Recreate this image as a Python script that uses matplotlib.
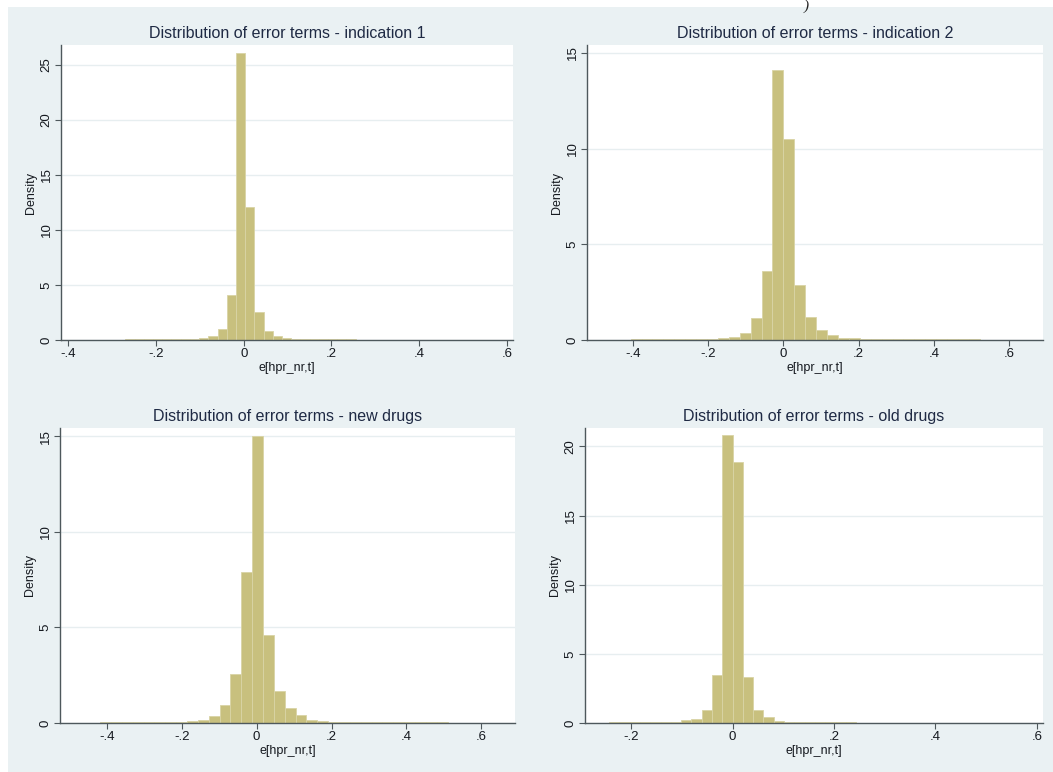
import matplotlib
matplotlib.use("Agg")
import matplotlib.pyplot as plt
from matplotlib.patches import Rectangle

plt.rcParams["font.family"] = ["Liberation Sans", "DejaVu Sans"]

# ---- data: density histograms of the residuals e[hpr_nr,t] ----
titles = [
    "Distribution of error terms - indication 1",
    "Distribution of error terms - indication 2",
    "Distribution of error terms - new drugs",
    "Distribution of error terms - old drugs",
]
x_label = "e[hpr_nr,t]"
y_label = "Density"

# indication 1
ind1_start = -0.417
ind1_width = 0.021
ind1_density = [0.03, 0.03, 0.03, 0.03, 0.03, 0.04, 0.04, 0.05, 0.05, 0.06,
                0.06, 0.07, 0.08, 0.10, 0.12, 0.16, 0.38, 1.00, 4.10, 26.1,
                12.1, 2.50, 0.82, 0.38, 0.16, 0.10, 0.08, 0.07, 0.06, 0.05,
                0.05, 0.05, 0.04, 0.04, 0.04, 0.04, 0.03, 0.03, 0.03, 0.03,
                0.03, 0.03, 0.03, 0.02, 0.02, 0.02, 0.02, 0.02, 0.02]
ind1_xticks = [-0.4, -0.2, 0.0, 0.2, 0.4, 0.6]
ind1_xticklabels = ["-.4", "-.2", "0", ".2", ".4", ".6"]
ind1_yticks = [0, 5, 10, 15, 20, 25]

# indication 2
ind2_start = -0.522
ind2_width = 0.029
ind2_density = [0.02, 0.02, 0.02, 0.02, 0.03, 0.03, 0.03, 0.04, 0.04, 0.05,
                0.05, 0.06, 0.08, 0.15, 0.36, 1.15, 3.60, 14.1, 10.5, 2.90,
                1.22, 0.52, 0.26, 0.12, 0.08, 0.06, 0.05, 0.05, 0.04, 0.04,
                0.04, 0.03, 0.03, 0.03, 0.03, 0.03, 0.02, 0.02, 0.02, 0.02,
                0.02, 0.02]
ind2_xticks = [-0.4, -0.2, 0.0, 0.2, 0.4, 0.6]
ind2_xticklabels = ["-.4", "-.2", "0", ".2", ".4", ".6"]
ind2_yticks = [0, 5, 10, 15]

# new drugs
new_start = -0.534
new_width = 0.029
new_density = [0.02, 0.02, 0.02, 0.02, 0.03, 0.03, 0.03, 0.04, 0.04, 0.05,
               0.05, 0.06, 0.08, 0.17, 0.35, 0.95, 2.55, 7.90, 15.0, 4.60,
               1.70, 0.78, 0.40, 0.17, 0.09, 0.07, 0.06, 0.05, 0.05, 0.04,
               0.04, 0.04, 0.03, 0.03, 0.03, 0.03, 0.02, 0.02, 0.02, 0.02,
               0.02, 0.02]
new_xticks = [-0.4, -0.2, 0.0, 0.2, 0.4, 0.6]
new_xticklabels = ["-.4", "-.2", "0", ".2", ".4", ".6"]
new_yticks = [0, 5, 10, 15]

# old drugs
old_start = -0.2842
old_width = 0.0203
old_density = [0.03, 0.03, 0.04, 0.04, 0.05, 0.05, 0.06, 0.07, 0.10, 0.20,
               0.30, 0.95, 3.50, 20.8, 18.9, 3.35, 0.95, 0.42, 0.14, 0.08,
               0.06, 0.05, 0.05, 0.04, 0.04, 0.04, 0.03, 0.03, 0.03, 0.03,
               0.03, 0.03, 0.02, 0.02, 0.02, 0.02, 0.02, 0.02, 0.02, 0.02,
               0.02, 0.02, 0.02, 0.02]
old_xticks = [-0.2, 0.0, 0.2, 0.4, 0.6]
old_xticklabels = ["-.2", "0", ".2", ".4", ".6"]
old_yticks = [0, 5, 10, 15, 20]

panels = [
    dict(start=ind1_start, width=ind1_width, dens=ind1_density,
         xt=ind1_xticks, xtl=ind1_xticklabels, yt=ind1_yticks,
         xlim=(-0.417, 0.614), ymax=26.8),
    dict(start=ind2_start, width=ind2_width, dens=ind2_density,
         xt=ind2_xticks, xtl=ind2_xticklabels, yt=ind2_yticks,
         xlim=(-0.522, 0.690), ymax=15.42),
    dict(start=new_start, width=new_width, dens=new_density,
         xt=new_xticks, xtl=new_xticklabels, yt=new_yticks,
         xlim=(-0.525, 0.690), ymax=15.44),
    dict(start=old_start, width=old_width, dens=old_density,
         xt=old_xticks, xtl=old_xticklabels, yt=old_yticks,
         xlim=(-0.291, 0.612), ymax=21.33),
]

# ---- styling ----
W, H = 1053, 772
BG = "#EAF1F3"
BAR = "#C8C07E"
BAR_EDGE = "#D9D4A6"
AXIS = "#4E585C"
GRID = "#E7EEF0"
TEXT = "#15191F"
TITLE = "#1F2A44"

fig = plt.figure(figsize=(W / 100, H / 100), dpi=100, facecolor=BG)
# thin white page margin along the top and left edges
fig.patches.append(Rectangle((0, 0), 8 / W, 1, transform=fig.transFigure,
                             facecolor="white", edgecolor="none", zorder=-5))
fig.patches.append(Rectangle((0, 1 - 7 / H), 1, 7 / H,
                             transform=fig.transFigure, facecolor="white",
                             edgecolor="none", zorder=-5))

# axes rectangles in pixels: left, right, top, bottom
boxes = [
    (61, 513, 45, 340),
    (587, 1043, 45, 340),
    (60, 515, 428, 723),
    (585, 1043, 428, 723),
]

for p, title, (l, r, t, b) in zip(panels, titles, boxes):
    ax = fig.add_axes([l / W, 1 - b / H, (r - l) / W, (b - t) / H])
    ax.set_facecolor("white")
    lefts = [p["start"] + i * p["width"] for i in range(len(p["dens"]))]
    ax.bar(lefts, p["dens"], width=p["width"], align="edge",
           color=BAR, edgecolor=BAR_EDGE, linewidth=0.6, zorder=2)
    ax.set_xlim(*p["xlim"])
    ax.set_ylim(0, p["ymax"])
    ax.set_xticks(p["xt"])
    ax.set_xticklabels(p["xtl"])
    ax.set_yticks(p["yt"])
    ax.set_yticklabels([str(v) for v in p["yt"]], rotation=90, va="center")
    ax.yaxis.grid(True, color=GRID, linewidth=1.0, zorder=0)
    ax.xaxis.grid(False)
    ax.set_axisbelow(True)
    for side in ("top", "right"):
        ax.spines[side].set_visible(False)
    for side in ("left", "bottom"):
        ax.spines[side].set_color(AXIS)
        ax.spines[side].set_linewidth(1.0)
        ax.spines[side].set_zorder(3)
    ax.tick_params(direction="out", length=4, width=0.8, color=AXIS,
                   labelsize=9.5, labelcolor=TEXT, pad=2)
    ax.set_xlabel(x_label, fontsize=9, color=TEXT, labelpad=1)
    ax.set_ylabel(y_label, fontsize=9, color=TEXT, labelpad=3)
    ax.set_title(title, fontsize=11.5, color=TITLE, pad=5)

fig.text(806 / W, 1 - 6 / H, ")", fontsize=11, color="#222222",
         ha="center", va="center", family="Liberation Serif", style="italic")

fig.savefig("out.png", dpi=100, facecolor=fig.get_facecolor())
